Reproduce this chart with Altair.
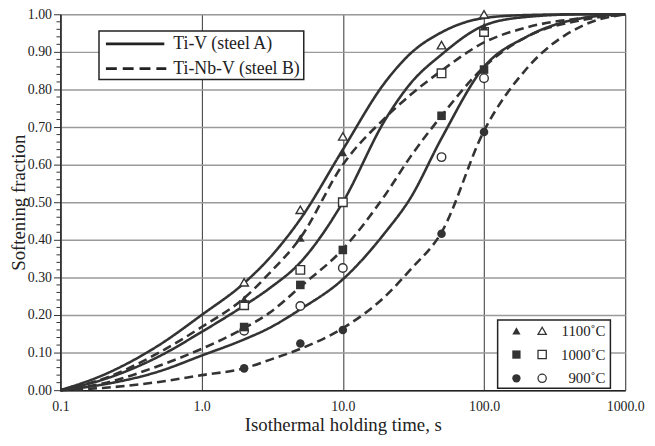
import altair as alt
import pandas as pd

FONT = "Liberation Serif, Times New Roman, serif"
INK = "#333333"

# ---- fitted softening curves ----
t_grid = [0.1, 0.2, 0.5, 1, 2, 3, 5, 10, 20, 30, 50, 100, 200, 500, 1000]
curve_A1100 = [0, 0.04, 0.12, 0.20, 0.285, 0.35, 0.455, 0.64, 0.82, 0.895, 0.952, 0.99, 0.998, 1.0, 1.0]
curve_B1100 = [0, 0.03, 0.10, 0.168, 0.245, 0.31, 0.405, 0.60, 0.725, 0.785, 0.85, 0.925, 0.965, 0.99, 1.0]
curve_A1000 = [0, 0.028, 0.09, 0.155, 0.225, 0.27, 0.34, 0.50, 0.72, 0.815, 0.893, 0.97, 0.993, 1.0, 1.0]
curve_B1000 = [0, 0.018, 0.065, 0.11, 0.165, 0.205, 0.275, 0.375, 0.52, 0.62, 0.73, 0.86, 0.94, 0.985, 1.0]
curve_A900 = [0, 0.015, 0.05, 0.092, 0.135, 0.165, 0.215, 0.295, 0.42, 0.51, 0.67, 0.86, 0.94, 0.99, 1.0]
curve_B900 = [0, 0.006, 0.022, 0.04, 0.058, 0.08, 0.11, 0.165, 0.25, 0.32, 0.42, 0.69, 0.855, 0.97, 1.0]

# ---- measured points ----
pts_A1100_t = [2, 5, 10, 50, 100]
pts_A1100_x = [0.287, 0.48, 0.675, 0.918, 1.0]
pts_A1000_t = [2, 5, 10, 50, 100]
pts_A1000_x = [0.226, 0.32, 0.50, 0.843, 0.953]
pts_A900_t = [2, 5, 10, 50, 100]
pts_A900_x = [0.158, 0.224, 0.325, 0.62, 0.83]
pts_B1100_t = [2, 5, 10, 100]
pts_B1100_x = [0.242, 0.405, 0.632, 0.967]
pts_B1000_t = [2, 5, 10, 50, 100]
pts_B1000_x = [0.168, 0.28, 0.373, 0.73, 0.853]
pts_B900_t = [2, 5, 10, 50, 100]
pts_B900_x = [0.058, 0.124, 0.16, 0.416, 0.687]

x_ticks = [0.1, 1, 10, 100, 1000]
y_ticks = [round(i * 0.1, 2) for i in range(11)]
y_minor = [round(i * 0.02, 2) for i in range(51) if i % 5 != 0]

curves = []
for name, steel, temp, vals in [
    ("A1100", "A", "1100", curve_A1100), ("B1100", "B", "1100", curve_B1100),
    ("A1000", "A", "1000", curve_A1000), ("B1000", "B", "1000", curve_B1000),
    ("A900", "A", "900", curve_A900), ("B900", "B", "900", curve_B900)]:
    for t, v in zip(t_grid, vals):
        curves.append({"t": t, "X": v, "curve": name, "steel": steel, "temp": temp})
curves_df = pd.DataFrame(curves)

pts = []
for steel, temp, ts, xs in [
    ("A", "1100", pts_A1100_t, pts_A1100_x), ("A", "1000", pts_A1000_t, pts_A1000_x),
    ("A", "900", pts_A900_t, pts_A900_x), ("B", "1100", pts_B1100_t, pts_B1100_x),
    ("B", "1000", pts_B1000_t, pts_B1000_x), ("B", "900", pts_B900_t, pts_B900_x)]:
    for t, v in zip(ts, xs):
        pts.append({"t": t, "X": v, "steel": steel, "temp": temp})
pts_df = pd.DataFrame(pts)

x_scale = alt.Scale(type="log", domain=[0.1, 1000])
y_scale = alt.Scale(domain=[0, 1])
x_axis = alt.Axis(values=x_ticks, format=".1f", grid=True, gridColor="#333333", gridWidth=1,
                  ticks=False, labelPadding=10, labelFont=FONT, labelFontSize=14, labelColor="#222",
                  title="Isothermal holding time, s", titleFont=FONT, titleFontSize=19,
                  titleFontWeight="normal", titleColor="#222", titlePadding=2,
                  domainColor="#222", domainWidth=1.5, labelFlush=False)
y_axis = alt.Axis(values=y_ticks, format=".2f", grid=True, gridColor="#9a9a9a", gridWidth=1.5,
                  tickSize=7, tickColor="#333", tickWidth=1, labelPadding=2, labelFont=FONT,
                  labelFontSize=14, labelColor="#222", title="Softening fraction", titleFont=FONT,
                  titleFontSize=19, titleFontWeight="normal", titleColor="#222", titlePadding=1,
                  minExtent=31, maxExtent=31, domainColor="#222", domainWidth=1.5)

X = alt.X("t:Q", scale=x_scale, axis=x_axis)
Y = alt.Y("X:Q", scale=y_scale, axis=y_axis)

shape_scale = alt.Scale(domain=["1100", "1000", "900"], range=["triangle-up", "square", "circle"])

lines = alt.Chart(curves_df).mark_line(interpolate="monotone", strokeWidth=2.6, color=INK).encode(
    x=X, y=Y, detail="curve:N",
    strokeDash=alt.StrokeDash("steel:N", scale=alt.Scale(domain=["A", "B"], range=[[1, 0], [9, 5]]),
                              legend=None))

open_pts = alt.Chart(pts_df[pts_df.steel == "A"]).mark_point(
    size=75, fill="white", fillOpacity=1, stroke=INK, strokeWidth=1.4, opacity=1).encode(
    x=X, y=Y, shape=alt.Shape("temp:N", scale=shape_scale, legend=None))

filled_pts = alt.Chart(pts_df[pts_df.steel == "B"]).mark_point(
    size=75, filled=True, color=INK, opacity=1).encode(
    x=X, y=Y, shape=alt.Shape("temp:N", scale=shape_scale, legend=None))

minor = alt.Chart(pd.DataFrame({"X": y_minor})).mark_rule(color="#333", strokeWidth=1).encode(
    y=Y, x=alt.value(-4), x2=alt.value(0))

one = pd.DataFrame({"a": [0]})

# legend: line styles
box1 = alt.Chart(one).mark_rect(fill="white", stroke="#222", strokeWidth=1.5).encode(
    x=alt.value(39), x2=alt.value(246), y=alt.value(17), y2=alt.value(66))
leg_solid = alt.Chart(one).mark_rule(color="#222", strokeWidth=2.8).encode(
    x=alt.value(46), x2=alt.value(105), y=alt.value(30))
leg_dash = alt.Chart(one).mark_rule(color="#222", strokeWidth=2.8, strokeDash=[11, 6]).encode(
    x=alt.value(46), x2=alt.value(107), y=alt.value(55))
txt_kw = dict(font=FONT, fontSize=18, color="#222", align="left", baseline="middle")
leg_t1 = alt.Chart(one).mark_text(text="Ti-V (steel A)", **txt_kw).encode(
    x=alt.value(114), y=alt.value(30))
leg_t2 = alt.Chart(one).mark_text(text="Ti-Nb-V (steel B)", **txt_kw).encode(
    x=alt.value(114), y=alt.value(55))

# legend: temperatures
box2 = alt.Chart(one).mark_rect(fill="white", stroke="#222", strokeWidth=1.5).encode(
    x=alt.value(442), x2=alt.value(556), y=alt.value(309), y2=alt.value(378))
leg2 = []
for row_y, shp, lab in [(320, "triangle-up", "1100\u02daC"), (344, "square", "1000\u02daC"),
                        (368, "circle", "900\u02daC")]:
    leg2.append(alt.Chart(one).mark_point(shape=shp, size=70, filled=True, color=INK, opacity=1).encode(
        x=alt.value(461), y=alt.value(row_y)))
    leg2.append(alt.Chart(one).mark_point(shape=shp, size=70, fill="white", fillOpacity=1, stroke=INK,
                                          strokeWidth=1.3, opacity=1).encode(
        x=alt.value(487), y=alt.value(row_y)))
    leg2.append(alt.Chart(one).mark_text(text=lab, font=FONT, fontSize=15, color="#222",
                                         align="right", baseline="middle").encode(
        x=alt.value(551), y=alt.value(row_y)))

chart = alt.layer(lines, open_pts, filled_pts, minor, box1, leg_solid, leg_dash, leg_t1, leg_t2,
                  box2, *leg2).properties(
    width=571, height=380,
    autosize=alt.AutoSizeParams(type="none"),
    padding={"left": 53, "top": 4, "right": 22, "bottom": 46},
).configure_view(stroke="#222", strokeWidth=1.5).configure(background="white")

chart.save("out.html", embed_options={"renderer": "svg", "actions": False})
